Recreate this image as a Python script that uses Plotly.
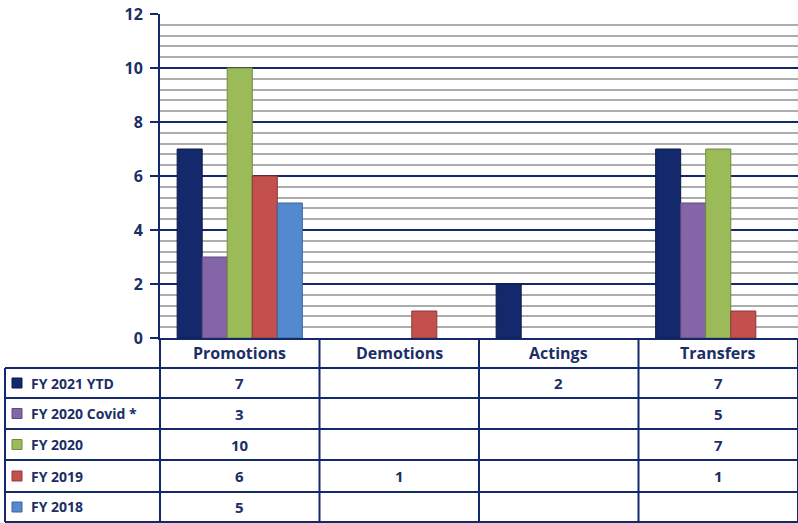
import plotly.graph_objects as go

# data
categories = ["Promotions", "Demotions", "Actings", "Transfers"]
series_names = ["FY 2021 YTD", "FY 2020 Covid *", "FY 2020", "FY 2019", "FY 2018"]
fy2021_ytd = [7, None, 2, 7]
fy2020_covid = [3, None, None, 5]
fy2020 = [10, None, None, 7]
fy2019 = [6, 1, None, 1]
fy2018 = [5, None, None, None]
y_ticks = [0, 2, 4, 6, 8, 10, 12]

series_values = [fy2021_ytd, fy2020_covid, fy2020, fy2019, fy2018]
series_colors = ["#13296B", "#8466A8", "#9BBB59", "#C4504D", "#5489CF"]
outline_colors = ["#0A1A48", "#5E4880", "#71893E", "#8E3836", "#3A63A0"]

NAVY = "#13296B"
TEXT = "#1B2F66"
FONT = "Open Sans"

W, H = 798, 523
L, R, T, B = 160, 0, 14, 185
plot_h = H - T - B


def py(p):
    # pixel y -> paper y
    return (H - B - p) / plot_h


def px(p):
    return (p - L) / (W - L - R)


fig = go.Figure()
for name, vals, col, oc in zip(series_names, series_values, series_colors, outline_colors):
    fig.add_trace(go.Bar(
        x=categories,
        y=vals,
        name=name,
        marker=dict(color=col, line=dict(color=oc, width=1)),
        hovertemplate='<b>%{x}</b><br>' + name + ': %{y}<extra></extra>'
    ))

shapes = []
annotations = []

# table geometry (pixels)
row_lines = [368, 398, 429, 460, 492, 522]
table_left = 5
line = dict(color=NAVY, width=2)

# horizontal row lines
for r in row_lines:
    shapes.append(dict(type="line", xref="paper", yref="paper",
                       x0=px(table_left), x1=px(W), y0=py(r), y1=py(r), line=line))
# vertical column lines (category boundaries)
for b in [0.5, 1.5, 2.5, 3.5]:
    shapes.append(dict(type="line", xref="x", yref="paper",
                       x0=b, x1=b, y0=py(522), y1=0, line=line))
# y axis extension into table + left border of legend column
shapes.append(dict(type="line", xref="paper", yref="paper",
                   x0=0, x1=0, y0=py(522), y1=0, line=line))
shapes.append(dict(type="line", xref="paper", yref="paper",
                   x0=px(table_left), x1=px(table_left), y0=py(522), y1=py(368), line=line))

# legend column: keys + names, and values
for i, (name, vals, col, oc) in enumerate(zip(series_names, series_values, series_colors, outline_colors)):
    top, bot = row_lines[i], row_lines[i + 1]
    mid = (top + bot) / 2
    shapes.append(dict(type="rect", xref="paper", yref="paper",
                       x0=px(12), x1=px(22), y0=py(mid - 5), y1=py(mid + 5),
                       fillcolor=col, line=dict(color=oc, width=1)))
    annotations.append(dict(text=name, xref="paper", yref="paper",
                            x=px(29), y=py(mid), xanchor="left", yanchor="middle",
                            showarrow=False,
                            font=dict(family=FONT, size=14, color=TEXT, weight="bold")))
    for cat, v in zip(categories, vals):
        if v is None:
            continue
        annotations.append(dict(text=str(v), xref="x", yref="paper",
                                x=cat, y=py(mid), xanchor="center", yanchor="middle",
                                showarrow=False,
                                font=dict(family=FONT, size=15, color=TEXT, weight="bold")))

# header row labels
for cat in categories:
    annotations.append(dict(text=cat, xref="x", yref="paper",
                            x=cat, y=py(353), xanchor="center", yanchor="middle",
                            showarrow=False,
                            font=dict(family=FONT, size=16, color=TEXT, weight="bold")))

fig.update_layout(
    width=W, height=H,
    margin=dict(l=L, r=R, t=T, b=B, autoexpand=False),
    paper_bgcolor="white", plot_bgcolor="white",
    barmode="group", bargap=0.215, bargroupgap=0,
    showlegend=False,
    shapes=shapes, annotations=annotations,
    xaxis=dict(range=[-0.5, 3.5], showticklabels=False, showgrid=False,
               showline=True, linecolor=NAVY, linewidth=2, zeroline=False),
    yaxis=dict(range=[0, 12], tickvals=y_ticks, showline=True, linecolor=NAVY, linewidth=2,
               gridcolor=NAVY, gridwidth=2, zeroline=False,
               ticks="outside", ticklen=8, tickcolor=NAVY, tickwidth=2,
               tickfont=dict(family=FONT, size=16, color=TEXT, weight="bold"),
               ticklabelstandoff=4,
               minor=dict(dtick=0.4, showgrid=True, gridcolor="#ADADAD", gridwidth=1.5)),
)

# remove the default body margin so the figure fills the window
fig.write_html("out.html", config={"displayModeBar": False},
               post_script="document.body.style.margin='0';")
